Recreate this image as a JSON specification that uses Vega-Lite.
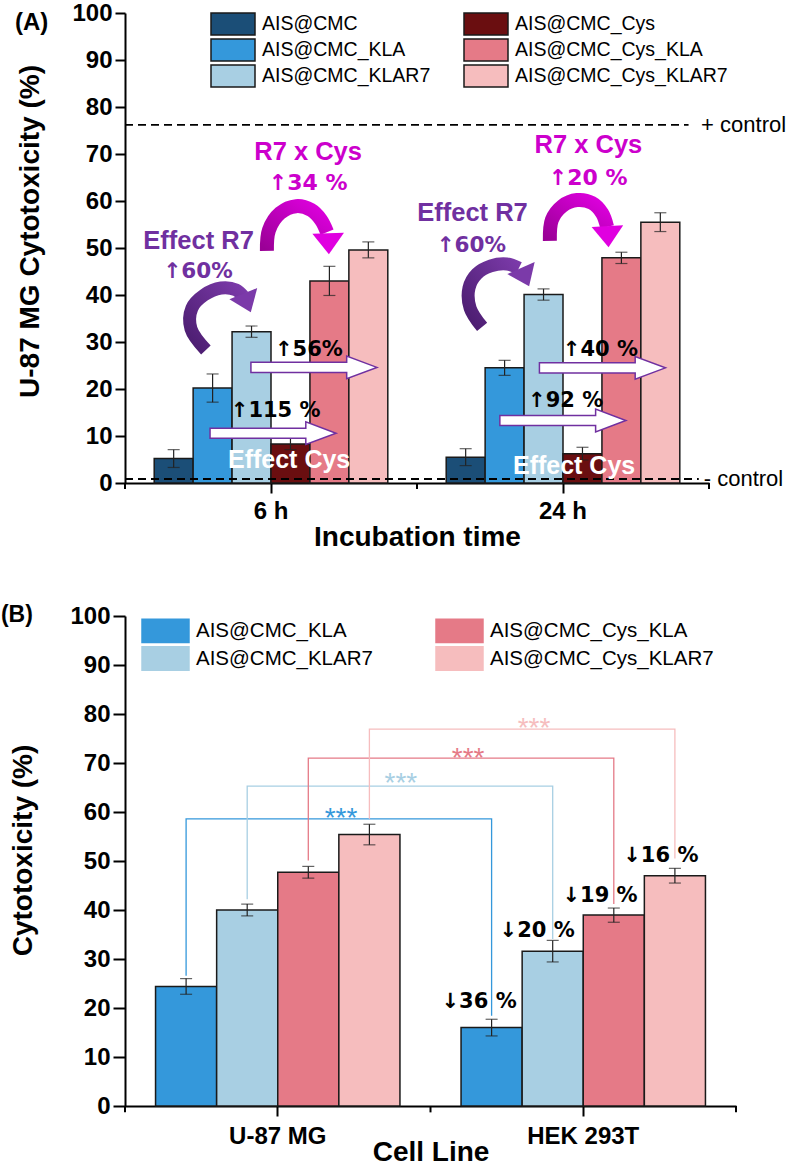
{
  "$schema": "https://vega.github.io/schema/vega-lite/v6.json",
  "background": "white",
  "padding": {"left": 0, "top": 1, "right": 0, "bottom": 0},
  "config": {
    "font": "Liberation Sans",
    "view": {"stroke": null},
    "axis": {"domainColor": "#000", "domainWidth": 2, "tickColor": "#000", "tickWidth": 2, "labelFont": "Liberation Sans", "labelFontWeight": "bold", "labelFontSize": 24, "labelColor": "#000", "titleFont": "Liberation Sans", "titleFontWeight": "bold", "titleFontSize": 28, "titleColor": "#000", "grid": false},
    "legend": {"labelFont": "Liberation Sans", "labelColor": "#000", "symbolStrokeColor": "#1a1a1a", "symbolStrokeWidth": 1.5, "symbolOpacity": 1, "symbolType": "M-2,-1H2V1H-2Z", "padding": 0, "labelLimit": 400},
    "title": {"font": "Liberation Sans", "fontWeight": "bold", "color": "#000", "anchor": "start", "frame": "bounds", "baseline": "middle"}
  },
  "spacing": 53,
  "resolve": {"scale": {"color": "independent", "x": "independent", "y": "independent", "xOffset": "independent"}, "legend": {"color": "independent"}},
  "datasets": {
    "A": [
      {"time": "6 h", "series": "AIS@CMC", "value": 5.2, "lo": 3.3, "hi": 7.1},
      {"time": "6 h", "series": "AIS@CMC_KLA", "value": 20.2, "lo": 17.2, "hi": 23.2},
      {"time": "6 h", "series": "AIS@CMC_KLAR7", "value": 32.2, "lo": 31.0, "hi": 33.4},
      {"time": "6 h", "series": "AIS@CMC_Cys", "value": 8.3, "lo": 7.1, "hi": 9.5},
      {"time": "6 h", "series": "AIS@CMC_Cys_KLA", "value": 43.0, "lo": 39.9, "hi": 46.1},
      {"time": "6 h", "series": "AIS@CMC_Cys_KLAR7", "value": 49.6, "lo": 47.9, "hi": 51.3},
      {"time": "24 h", "series": "AIS@CMC", "value": 5.5, "lo": 3.7, "hi": 7.3},
      {"time": "24 h", "series": "AIS@CMC_KLA", "value": 24.5, "lo": 22.9, "hi": 26.1},
      {"time": "24 h", "series": "AIS@CMC_KLAR7", "value": 40.1, "lo": 38.9, "hi": 41.3},
      {"time": "24 h", "series": "AIS@CMC_Cys", "value": 6.2, "lo": 4.9, "hi": 7.6},
      {"time": "24 h", "series": "AIS@CMC_Cys_KLA", "value": 47.9, "lo": 46.7, "hi": 49.1},
      {"time": "24 h", "series": "AIS@CMC_Cys_KLAR7", "value": 55.5, "lo": 53.5, "hi": 57.5}
    ],
    "B": [
      {"cell": "U-87 MG", "series": "AIS@CMC_KLA", "value": 24.4, "lo": 22.8, "hi": 26.0},
      {"cell": "U-87 MG", "series": "AIS@CMC_KLAR7", "value": 40.0, "lo": 38.8, "hi": 41.2},
      {"cell": "U-87 MG", "series": "AIS@CMC_Cys_KLA", "value": 47.7, "lo": 46.5, "hi": 48.9},
      {"cell": "U-87 MG", "series": "AIS@CMC_Cys_KLAR7", "value": 55.4, "lo": 53.3, "hi": 57.5},
      {"cell": "HEK 293T", "series": "AIS@CMC_KLA", "value": 16.0, "lo": 14.3, "hi": 17.7},
      {"cell": "HEK 293T", "series": "AIS@CMC_KLAR7", "value": 31.6, "lo": 29.4, "hi": 33.8},
      {"cell": "HEK 293T", "series": "AIS@CMC_Cys_KLA", "value": 39.0, "lo": 37.5, "hi": 40.4},
      {"cell": "HEK 293T", "series": "AIS@CMC_Cys_KLAR7", "value": 47.0, "lo": 45.5, "hi": 48.5}
    ],
    "bandEdges": [
      {"u": 0, "v0": 0, "v1": -1.3}, {"u": 1, "v0": 0, "v1": -1.3}, {"u": 2, "v0": 0, "v1": -1.3}
    ],
    "ctrlA": [
      {"label": "+ control", "v": 76.2, "u0": 0, "u1": 1.93, "ut": 1.973},
      {"label": "- control", "v": 0.85, "u0": 0, "u1": 1.965, "ut": 1.982}
    ],
    "blockA": [
      {"u": 0.507, "v": 10.6}, {"u": 0.647, "v": 24.6}, {"u": 1.4995, "v": 13.3}, {"u": 1.635, "v": 24.5}
    ],
    "arcsA": [
      {"arrow": "p6", "k": 0, "u": 0.277, "v": 28.3}, {"arrow": "p6", "k": 1, "u": 0.226, "v": 32.8}, {"arrow": "p6", "k": 2, "u": 0.229, "v": 37.2}, {"arrow": "p6", "k": 3, "u": 0.271, "v": 40.0}, {"arrow": "p6", "k": 4, "u": 0.329, "v": 41.5}, {"arrow": "p6", "k": 5, "u": 0.380, "v": 41.1}, {"arrow": "p6", "k": 6, "u": 0.404, "v": 39.8},
      {"arrow": "m6", "k": 0, "u": 0.486, "v": 49.4}, {"arrow": "m6", "k": 1, "u": 0.493, "v": 53.8}, {"arrow": "m6", "k": 2, "u": 0.531, "v": 57.4}, {"arrow": "m6", "k": 3, "u": 0.586, "v": 58.9}, {"arrow": "m6", "k": 4, "u": 0.637, "v": 58.1}, {"arrow": "m6", "k": 5, "u": 0.671, "v": 56.0}, {"arrow": "m6", "k": 6, "u": 0.692, "v": 53.4},
      {"arrow": "p24", "k": 0, "u": 1.223, "v": 33.2}, {"arrow": "p24", "k": 1, "u": 1.182, "v": 37.2}, {"arrow": "p24", "k": 2, "u": 1.178, "v": 41.5}, {"arrow": "p24", "k": 3, "u": 1.205, "v": 44.5}, {"arrow": "p24", "k": 4, "u": 1.253, "v": 46.2}, {"arrow": "p24", "k": 5, "u": 1.308, "v": 46.6}, {"arrow": "p24", "k": 6, "u": 1.349, "v": 45.7},
      {"arrow": "m24", "k": 0, "u": 1.455, "v": 51.5}, {"arrow": "m24", "k": 1, "u": 1.462, "v": 56.0}, {"arrow": "m24", "k": 2, "u": 1.497, "v": 58.9}, {"arrow": "m24", "k": 3, "u": 1.548, "v": 60.2}, {"arrow": "m24", "k": 4, "u": 1.599, "v": 59.6}, {"arrow": "m24", "k": 5, "u": 1.634, "v": 57.4}, {"arrow": "m24", "k": 6, "u": 1.651, "v": 54.5}
    ],
    "headsA": [
      {"arrow": "p6", "u": 0.418, "v": 38.3}, {"arrow": "m6", "u": 0.697, "v": 50.9}, {"arrow": "p24", "u": 1.370, "v": 43.8}, {"arrow": "m24", "u": 1.654, "v": 52.4}
    ],
    "textA": [
      {"label": "↑115 %", "u": 0.516, "v": 15.3, "kind": "black"},
      {"label": "↑56%", "u": 0.630, "v": 28.4, "kind": "black"},
      {"label": "↑92 %", "u": 1.509, "v": 17.4, "kind": "black"},
      {"label": "↑40 %", "u": 1.628, "v": 28.4, "kind": "black"},
      {"label": "Effect Cys", "u": 0.562, "v": 5.0, "kind": "white"},
      {"label": "Effect Cys", "u": 1.538, "v": 3.6, "kind": "white"},
      {"label": "Effect R7", "u": 0.252, "v": 51.5, "kind": "purple"},
      {"label": "↑60%", "u": 0.25, "v": 44.8, "kind": "purple"},
      {"label": "Effect R7", "u": 1.19, "v": 57.4, "kind": "purple"},
      {"label": "↑60%", "u": 1.186, "v": 50.4, "kind": "purple"},
      {"label": "R7 x Cys", "u": 0.627, "v": 70.4, "kind": "magenta"},
      {"label": "↑34 %", "u": 0.627, "v": 63.8, "kind": "magenta"},
      {"label": "R7 x Cys", "u": 1.587, "v": 72.0, "kind": "magenta"},
      {"label": "↑20 %", "u": 1.586, "v": 64.9, "kind": "magenta"}
    ],
    "bracketsB": [
      {"series": "AIS@CMC_KLA", "k": 0, "u": 0.2, "v": 26.6}, {"series": "AIS@CMC_KLA", "k": 1, "u": 0.2, "v": 58.6}, {"series": "AIS@CMC_KLA", "k": 2, "u": 1.2, "v": 58.6}, {"series": "AIS@CMC_KLA", "k": 3, "u": 1.2, "v": 18.4},
      {"series": "AIS@CMC_KLAR7", "k": 0, "u": 0.4, "v": 42.2}, {"series": "AIS@CMC_KLAR7", "k": 1, "u": 0.4, "v": 65.3}, {"series": "AIS@CMC_KLAR7", "k": 2, "u": 1.4, "v": 65.3}, {"series": "AIS@CMC_KLAR7", "k": 3, "u": 1.4, "v": 34.1},
      {"series": "AIS@CMC_Cys_KLA", "k": 0, "u": 0.6, "v": 50.1}, {"series": "AIS@CMC_Cys_KLA", "k": 1, "u": 0.6, "v": 71.0}, {"series": "AIS@CMC_Cys_KLA", "k": 2, "u": 1.6, "v": 71.0}, {"series": "AIS@CMC_Cys_KLA", "k": 3, "u": 1.6, "v": 41.2},
      {"series": "AIS@CMC_Cys_KLAR7", "k": 0, "u": 0.8, "v": 58.6}, {"series": "AIS@CMC_Cys_KLAR7", "k": 1, "u": 0.8, "v": 76.9}, {"series": "AIS@CMC_Cys_KLAR7", "k": 2, "u": 1.8, "v": 76.9}, {"series": "AIS@CMC_Cys_KLAR7", "k": 3, "u": 1.8, "v": 50.5}
    ],
    "starsB": [
      {"series": "AIS@CMC_KLA", "u": 0.707, "v": 56.9},
      {"series": "AIS@CMC_KLAR7", "u": 0.903, "v": 64.1},
      {"series": "AIS@CMC_Cys_KLA", "u": 1.123, "v": 69.2},
      {"series": "AIS@CMC_Cys_KLAR7", "u": 1.339, "v": 75.4}
    ],
    "pctB": [
      {"label": "↓36 %", "u": 1.159, "v": 21.2},
      {"label": "↓20 %", "u": 1.349, "v": 35.8},
      {"label": "↓19 %", "u": 1.555, "v": 42.9},
      {"label": "↓16 %", "u": 1.754, "v": 51.1}
    ]
  },
  "vconcat": [
    {
      "width": 584,
      "height": 470,
      "title": {"text": "(A)", "fontSize": 24, "offset": -34, "dx": -2},
      "resolve": {"scale": {"x": "independent"}},
      "layer": [
        {
          "layer": [
            {
              "data": {"name": "A"},
              "mark": {"type": "bar", "stroke": "#1a1a1a", "strokeWidth": 1.5},
              "encoding": {
                "x": {"field": "time", "type": "nominal", "sort": ["6 h", "24 h"], "scale": {"paddingInner": 0, "paddingOuter": 0},
                  "axis": {"title": "Incubation time", "labelAngle": 0, "tickSize": 10, "labelPadding": 6, "titlePadding": 0}},
                "xOffset": {"field": "series", "type": "nominal", "scale": {"domain": ["AIS@CMC", "AIS@CMC_KLA", "AIS@CMC_KLAR7", "AIS@CMC_Cys", "AIS@CMC_Cys_KLA", "AIS@CMC_Cys_KLAR7"], "paddingInner": 0, "paddingOuter": 0.75}},
                "y": {"field": "value", "type": "quantitative", "scale": {"domain": [0, 100], "nice": false},
                  "axis": {"title": "U-87 MG Cytotoxicity (%)", "values": [0, 5, 10, 15, 20, 25, 30, 35, 40, 45, 50, 55, 60, 65, 70, 75, 80, 85, 90, 95, 100], "labelExpr": "datum.value % 10 === 0 ? datum.label : ''", "tickSize": {"condition": {"test": "datum.value % 10 === 0", "value": 10}, "value": 5}, "labelPadding": 3, "titlePadding": 27, "titleY": 218}},
                "color": {"field": "series", "type": "nominal",
                  "scale": {"domain": ["AIS@CMC", "AIS@CMC_KLA", "AIS@CMC_KLAR7", "AIS@CMC_Cys", "AIS@CMC_Cys_KLA", "AIS@CMC_Cys_KLAR7"], "range": ["#1b4e77", "#3498db", "#a8cfe3", "#6a0e10", "#e57a87", "#f6bdbe"]},
                  "legend": {"title": null, "orient": "none", "legendX": 96, "legendY": -1, "columns": 2, "symbolSize": 484, "rowPadding": -2, "columnPadding": 30, "labelFontSize": 19.5, "labelOffset": 17}}
              }
            },
            {
              "data": {"name": "A"},
              "mark": {"type": "rule", "color": "#222", "strokeWidth": 1.2},
              "encoding": {
                "x": {"field": "time", "type": "nominal", "sort": ["6 h", "24 h"], "scale": {"paddingInner": 0, "paddingOuter": 0}},
                "xOffset": {"field": "series", "type": "nominal", "scale": {"domain": ["AIS@CMC", "AIS@CMC_KLA", "AIS@CMC_KLAR7", "AIS@CMC_Cys", "AIS@CMC_Cys_KLA", "AIS@CMC_Cys_KLAR7"], "paddingInner": 0, "paddingOuter": 0.75}},
                "y": {"field": "lo", "type": "quantitative", "scale": {"domain": [0, 100], "nice": false}},
                "y2": {"field": "hi"}
              }
            },
            {
              "data": {"name": "A"},
              "mark": {"type": "tick", "color": "#222", "thickness": 1.2, "size": 12},
              "encoding": {
                "x": {"field": "time", "type": "nominal", "sort": ["6 h", "24 h"], "scale": {"paddingInner": 0, "paddingOuter": 0}},
                "xOffset": {"field": "series", "type": "nominal", "scale": {"domain": ["AIS@CMC", "AIS@CMC_KLA", "AIS@CMC_KLAR7", "AIS@CMC_Cys", "AIS@CMC_Cys_KLA", "AIS@CMC_Cys_KLAR7"], "paddingInner": 0, "paddingOuter": 0.75}},
                "y": {"field": "lo", "type": "quantitative", "scale": {"domain": [0, 100], "nice": false}}
              }
            },
            {
              "data": {"name": "A"},
              "mark": {"type": "tick", "color": "#222", "thickness": 1.2, "size": 12},
              "encoding": {
                "x": {"field": "time", "type": "nominal", "sort": ["6 h", "24 h"], "scale": {"paddingInner": 0, "paddingOuter": 0}},
                "xOffset": {"field": "series", "type": "nominal", "scale": {"domain": ["AIS@CMC", "AIS@CMC_KLA", "AIS@CMC_KLAR7", "AIS@CMC_Cys", "AIS@CMC_Cys_KLA", "AIS@CMC_Cys_KLAR7"], "paddingInner": 0, "paddingOuter": 0.75}},
                "y": {"field": "hi", "type": "quantitative", "scale": {"domain": [0, 100], "nice": false}}
              }
            }
          ]
        },
        {
          "layer": [
            {
              "data": {"name": "bandEdges"},
              "mark": {"type": "rule", "strokeWidth": 2, "color": "#000"},
              "encoding": {
                "x": {"field": "u", "type": "quantitative", "scale": {"domain": [0, 2], "nice": false, "zero": false}, "axis": null},
                "y": {"field": "v0", "type": "quantitative", "scale": {"domain": [0, 100], "nice": false}},
                "y2": {"field": "v1"}
              }
            },
            {
              "data": {"name": "ctrlA"},
              "mark": {"type": "rule", "strokeDash": [8, 5], "strokeWidth": 1.8, "color": "#000"},
              "encoding": {
                "x": {"field": "u0", "type": "quantitative", "scale": {"domain": [0, 2], "nice": false, "zero": false}, "axis": null},
                "x2": {"field": "u1"},
                "y": {"field": "v", "type": "quantitative", "scale": {"domain": [0, 100], "nice": false}}
              }
            },
            {
              "data": {"name": "ctrlA"},
              "mark": {"type": "text", "align": "left", "baseline": "middle", "fontSize": 22, "color": "#000"},
              "encoding": {
                "x": {"field": "ut", "type": "quantitative", "scale": {"domain": [0, 2], "nice": false, "zero": false}, "axis": null},
                "y": {"field": "v", "type": "quantitative", "scale": {"domain": [0, 100], "nice": false}},
                "text": {"field": "label"}
              }
            },
            {
              "data": {"name": "blockA"},
              "mark": {"type": "point", "shape": "M-1,-0.08L0.52,-0.08L0.52,-0.18L1,0L0.52,0.18L0.52,0.08L-1,0.08Z", "size": 15876, "filled": true, "fill": "white", "stroke": "#7030a0", "strokeWidth": 1.5, "opacity": 1},
              "encoding": {
                "x": {"field": "u", "type": "quantitative", "scale": {"domain": [0, 2], "nice": false, "zero": false}, "axis": null},
                "y": {"field": "v", "type": "quantitative", "scale": {"domain": [0, 100], "nice": false}}
              }
            },
            {
              "data": {"name": "arcsA"},
              "transform": [{"filter": "datum.arrow === 'p6' || datum.arrow === 'p24'"}],
              "mark": {"type": "line", "interpolate": "catmull-rom", "strokeWidth": 13, "strokeCap": "butt",
                "stroke": {"gradient": "linear", "x1": 0, "y1": 1, "x2": 1, "y2": 0, "stops": [{"offset": 0, "color": "#4a1c6e"}, {"offset": 1, "color": "#7b3aa9"}]}},
              "encoding": {
                "x": {"field": "u", "type": "quantitative", "scale": {"domain": [0, 2], "nice": false, "zero": false}, "axis": null},
                "y": {"field": "v", "type": "quantitative", "scale": {"domain": [0, 100], "nice": false}},
                "detail": {"field": "arrow"},
                "order": {"field": "k"}
              }
            },
            {
              "data": {"name": "arcsA"},
              "transform": [{"filter": "datum.arrow === 'm6' || datum.arrow === 'm24'"}],
              "mark": {"type": "line", "interpolate": "catmull-rom", "strokeWidth": 14, "strokeCap": "butt",
                "stroke": {"gradient": "linear", "x1": 0, "y1": 1, "x2": 1, "y2": 0, "stops": [{"offset": 0, "color": "#9a0096"}, {"offset": 1, "color": "#e000e0"}]}},
              "encoding": {
                "x": {"field": "u", "type": "quantitative", "scale": {"domain": [0, 2], "nice": false, "zero": false}, "axis": null},
                "y": {"field": "v", "type": "quantitative", "scale": {"domain": [0, 100], "nice": false}},
                "detail": {"field": "arrow"},
                "order": {"field": "k"}
              }
            },
            {
              "data": {"name": "headsA"},
              "transform": [{"filter": "datum.arrow === 'p6'"}],
              "mark": {"type": "point", "shape": "M0.667,0L-0.667,-1L-0.667,1Z", "size": 900, "filled": true, "color": "#7b3aa9", "opacity": 1, "angle": 68},
              "encoding": {
                "x": {"field": "u", "type": "quantitative", "scale": {"domain": [0, 2], "nice": false, "zero": false}, "axis": null},
                "y": {"field": "v", "type": "quantitative", "scale": {"domain": [0, 100], "nice": false}}
              }
            },
            {
              "data": {"name": "headsA"},
              "transform": [{"filter": "datum.arrow === 'p24'"}],
              "mark": {"type": "point", "shape": "M0.667,0L-0.667,-1L-0.667,1Z", "size": 900, "filled": true, "color": "#7b3aa9", "opacity": 1, "angle": 66},
              "encoding": {
                "x": {"field": "u", "type": "quantitative", "scale": {"domain": [0, 2], "nice": false, "zero": false}, "axis": null},
                "y": {"field": "v", "type": "quantitative", "scale": {"domain": [0, 100], "nice": false}}
              }
            },
            {
              "data": {"name": "headsA"},
              "transform": [{"filter": "datum.arrow === 'm6'"}],
              "mark": {"type": "point", "shape": "M0.667,0L-0.667,-1L-0.667,1Z", "size": 1000, "filled": true, "color": "#e000e0", "opacity": 1, "angle": 88},
              "encoding": {
                "x": {"field": "u", "type": "quantitative", "scale": {"domain": [0, 2], "nice": false, "zero": false}, "axis": null},
                "y": {"field": "v", "type": "quantitative", "scale": {"domain": [0, 100], "nice": false}}
              }
            },
            {
              "data": {"name": "headsA"},
              "transform": [{"filter": "datum.arrow === 'm24'"}],
              "mark": {"type": "point", "shape": "M0.667,0L-0.667,-1L-0.667,1Z", "size": 1000, "filled": true, "color": "#e000e0", "opacity": 1, "angle": 87},
              "encoding": {
                "x": {"field": "u", "type": "quantitative", "scale": {"domain": [0, 2], "nice": false, "zero": false}, "axis": null},
                "y": {"field": "v", "type": "quantitative", "scale": {"domain": [0, 100], "nice": false}}
              }
            },
            {
              "data": {"name": "textA"},
              "transform": [{"filter": "datum.kind === 'black'"}],
              "mark": {"type": "text", "align": "center", "baseline": "middle", "font": "DejaVu Sans", "fontSize": 21, "fontWeight": "bold", "color": "#000"},
              "encoding": {
                "x": {"field": "u", "type": "quantitative", "scale": {"domain": [0, 2], "nice": false, "zero": false}, "axis": null},
                "y": {"field": "v", "type": "quantitative", "scale": {"domain": [0, 100], "nice": false}},
                "text": {"field": "label"}
              }
            },
            {
              "data": {"name": "textA"},
              "transform": [{"filter": "datum.kind === 'white'"}],
              "mark": {"type": "text", "align": "center", "baseline": "middle", "fontSize": 25, "fontWeight": "bold", "color": "#ffffff"},
              "encoding": {
                "x": {"field": "u", "type": "quantitative", "scale": {"domain": [0, 2], "nice": false, "zero": false}, "axis": null},
                "y": {"field": "v", "type": "quantitative", "scale": {"domain": [0, 100], "nice": false}},
                "text": {"field": "label"}
              }
            },
            {
              "data": {"name": "textA"},
              "transform": [{"filter": "datum.kind === 'purple' && indexof(datum.label, '↑') < 0"}],
              "mark": {"type": "text", "align": "center", "baseline": "middle", "fontSize": 25.5, "fontWeight": "bold", "color": "#7030a0"},
              "encoding": {
                "x": {"field": "u", "type": "quantitative", "scale": {"domain": [0, 2], "nice": false, "zero": false}, "axis": null},
                "y": {"field": "v", "type": "quantitative", "scale": {"domain": [0, 100], "nice": false}},
                "text": {"field": "label"}
              }
            },
            {
              "data": {"name": "textA"},
              "transform": [{"filter": "datum.kind === 'purple' && indexof(datum.label, '↑') >= 0"}],
              "mark": {"type": "text", "align": "center", "baseline": "middle", "font": "DejaVu Sans", "fontSize": 21.5, "fontWeight": "bold", "color": "#7030a0"},
              "encoding": {
                "x": {"field": "u", "type": "quantitative", "scale": {"domain": [0, 2], "nice": false, "zero": false}, "axis": null},
                "y": {"field": "v", "type": "quantitative", "scale": {"domain": [0, 100], "nice": false}},
                "text": {"field": "label"}
              }
            },
            {
              "data": {"name": "textA"},
              "transform": [{"filter": "datum.kind === 'magenta' && indexof(datum.label, '↑') < 0"}],
              "mark": {"type": "text", "align": "center", "baseline": "middle", "fontSize": 25.5, "fontWeight": "bold", "color": "#cc00cc"},
              "encoding": {
                "x": {"field": "u", "type": "quantitative", "scale": {"domain": [0, 2], "nice": false, "zero": false}, "axis": null},
                "y": {"field": "v", "type": "quantitative", "scale": {"domain": [0, 100], "nice": false}},
                "text": {"field": "label"}
              }
            },
            {
              "data": {"name": "textA"},
              "transform": [{"filter": "datum.kind === 'magenta' && indexof(datum.label, '↑') >= 0"}],
              "mark": {"type": "text", "align": "center", "baseline": "middle", "font": "DejaVu Sans", "fontSize": 22, "fontWeight": "bold", "color": "#cc00cc"},
              "encoding": {
                "x": {"field": "u", "type": "quantitative", "scale": {"domain": [0, 2], "nice": false, "zero": false}, "axis": null},
                "y": {"field": "v", "type": "quantitative", "scale": {"domain": [0, 100], "nice": false}},
                "text": {"field": "label"}
              }
            }
          ]
        }
      ]
    },
    {
      "width": 611,
      "height": 490,
      "title": {"text": "(B)", "fontSize": 23, "offset": -23, "dx": -9},
      "resolve": {"scale": {"x": "independent"}},
      "layer": [
        {
          "layer": [
            {
              "data": {"name": "B"},
              "mark": {"type": "bar", "stroke": "#1a1a1a", "strokeWidth": 1.5},
              "encoding": {
                "x": {"field": "cell", "type": "nominal", "sort": ["U-87 MG", "HEK 293T"], "scale": {"paddingInner": 0, "paddingOuter": 0},
                  "axis": {"title": "Cell Line", "labelAngle": 0, "tickSize": 10, "labelPadding": 8, "titlePadding": -10}},
                "xOffset": {"field": "series", "type": "nominal", "scale": {"domain": ["AIS@CMC_KLA", "AIS@CMC_KLAR7", "AIS@CMC_Cys_KLA", "AIS@CMC_Cys_KLAR7"], "paddingInner": 0, "paddingOuter": 0.5}},
                "y": {"field": "value", "type": "quantitative", "scale": {"domain": [0, 100], "nice": false},
                  "axis": {"title": "Cytotoxicity (%)", "values": [0, 5, 10, 15, 20, 25, 30, 35, 40, 45, 50, 55, 60, 65, 70, 75, 80, 85, 90, 95, 100], "labelExpr": "datum.value % 10 === 0 ? datum.label : ''", "tickSize": {"condition": {"test": "datum.value % 10 === 0", "value": 12}, "value": 6}, "labelPadding": 3, "titlePadding": 32, "titleY": 234}},
                "color": {"field": "series", "type": "nominal",
                  "scale": {"domain": ["AIS@CMC_KLA", "AIS@CMC_KLAR7", "AIS@CMC_Cys_KLA", "AIS@CMC_Cys_KLAR7"], "range": ["#3498db", "#a8cfe3", "#e57a87", "#f6bdbe"]},
                  "legend": {"title": null, "orient": "none", "legendX": 28, "legendY": 2, "columns": 2, "symbolSize": 552, "rowPadding": -8, "columnPadding": 60, "labelFontSize": 20.5, "labelOffset": 18}}
              }
            },
            {
              "data": {"name": "B"},
              "mark": {"type": "rule", "color": "#222", "strokeWidth": 1.2},
              "encoding": {
                "x": {"field": "cell", "type": "nominal", "sort": ["U-87 MG", "HEK 293T"], "scale": {"paddingInner": 0, "paddingOuter": 0}},
                "xOffset": {"field": "series", "type": "nominal", "scale": {"domain": ["AIS@CMC_KLA", "AIS@CMC_KLAR7", "AIS@CMC_Cys_KLA", "AIS@CMC_Cys_KLAR7"], "paddingInner": 0, "paddingOuter": 0.5}},
                "y": {"field": "lo", "type": "quantitative", "scale": {"domain": [0, 100], "nice": false}},
                "y2": {"field": "hi"}
              }
            },
            {
              "data": {"name": "B"},
              "mark": {"type": "tick", "color": "#222", "thickness": 1.2, "size": 12},
              "encoding": {
                "x": {"field": "cell", "type": "nominal", "sort": ["U-87 MG", "HEK 293T"], "scale": {"paddingInner": 0, "paddingOuter": 0}},
                "xOffset": {"field": "series", "type": "nominal", "scale": {"domain": ["AIS@CMC_KLA", "AIS@CMC_KLAR7", "AIS@CMC_Cys_KLA", "AIS@CMC_Cys_KLAR7"], "paddingInner": 0, "paddingOuter": 0.5}},
                "y": {"field": "lo", "type": "quantitative", "scale": {"domain": [0, 100], "nice": false}}
              }
            },
            {
              "data": {"name": "B"},
              "mark": {"type": "tick", "color": "#222", "thickness": 1.2, "size": 12},
              "encoding": {
                "x": {"field": "cell", "type": "nominal", "sort": ["U-87 MG", "HEK 293T"], "scale": {"paddingInner": 0, "paddingOuter": 0}},
                "xOffset": {"field": "series", "type": "nominal", "scale": {"domain": ["AIS@CMC_KLA", "AIS@CMC_KLAR7", "AIS@CMC_Cys_KLA", "AIS@CMC_Cys_KLAR7"], "paddingInner": 0, "paddingOuter": 0.5}},
                "y": {"field": "hi", "type": "quantitative", "scale": {"domain": [0, 100], "nice": false}}
              }
            }
          ]
        },
        {
          "layer": [
            {
              "data": {"name": "bandEdges"},
              "mark": {"type": "rule", "strokeWidth": 2, "color": "#000"},
              "encoding": {
                "x": {"field": "u", "type": "quantitative", "scale": {"domain": [0, 2], "nice": false, "zero": false}, "axis": null},
                "y": {"field": "v0", "type": "quantitative", "scale": {"domain": [0, 100], "nice": false}},
                "y2": {"field": "v1"}
              }
            },
            {
              "data": {"name": "bracketsB"},
              "mark": {"type": "line", "strokeWidth": 1.3, "interpolate": "linear"},
              "encoding": {
                "x": {"field": "u", "type": "quantitative", "scale": {"domain": [0, 2], "nice": false, "zero": false}, "axis": null},
                "y": {"field": "v", "type": "quantitative", "scale": {"domain": [0, 100], "nice": false}},
                "color": {"field": "series", "type": "nominal", "legend": null},
                "detail": {"field": "series"},
                "order": {"field": "k"}
              }
            },
            {
              "data": {"name": "starsB"},
              "mark": {"type": "text", "text": "***", "align": "center", "baseline": "alphabetic", "fontSize": 28},
              "encoding": {
                "x": {"field": "u", "type": "quantitative", "scale": {"domain": [0, 2], "nice": false, "zero": false}, "axis": null},
                "y": {"field": "v", "type": "quantitative", "scale": {"domain": [0, 100], "nice": false}},
                "color": {"field": "series", "type": "nominal", "legend": null}
              }
            },
            {
              "data": {"name": "pctB"},
              "mark": {"type": "text", "align": "center", "baseline": "middle", "font": "DejaVu Sans", "fontSize": 21, "fontWeight": "bold", "color": "#000"},
              "encoding": {
                "x": {"field": "u", "type": "quantitative", "scale": {"domain": [0, 2], "nice": false, "zero": false}, "axis": null},
                "y": {"field": "v", "type": "quantitative", "scale": {"domain": [0, 100], "nice": false}},
                "text": {"field": "label"}
              }
            }
          ]
        }
      ]
    }
  ]
}
